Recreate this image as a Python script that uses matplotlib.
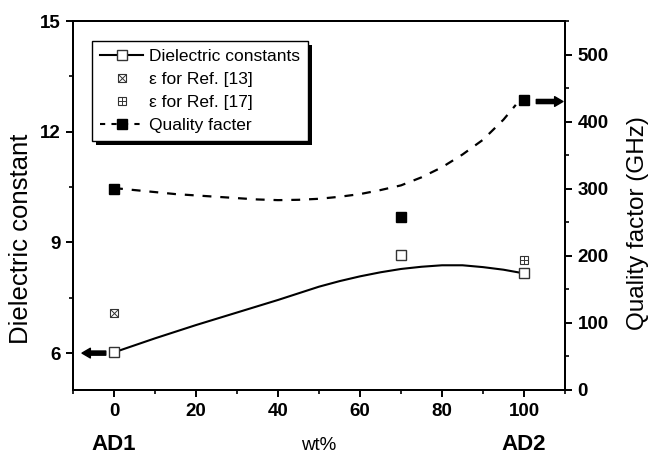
import matplotlib
matplotlib.use("Agg")
import matplotlib.pyplot as plt
import matplotlib.transforms as mtrans
from matplotlib.ticker import MultipleLocator
from matplotlib.legend_handler import HandlerTuple
from matplotlib.lines import Line2D
from matplotlib.patches import Rectangle

plt.rcParams['font.family'] = ['Liberation Sans', 'DejaVu Sans']

# ---- data ----
wt = [0, 70, 100]
eps = [6.02, 8.67, 8.16]
ref13_x = [0]
ref13_eps = [7.09]
ref17_x = [100]
ref17_eps = [8.51]
qf = [300, 258, 432]

eps_fit_x = [0, 5, 10, 15, 20, 25, 30, 35, 40, 45, 50, 55, 60, 65, 70, 75, 80, 85, 90, 95, 100]
eps_fit_y = [6.02, 6.21, 6.40, 6.58, 6.76, 6.93, 7.10, 7.27, 7.44, 7.62, 7.80, 7.95,
             8.08, 8.19, 8.28, 8.34, 8.38, 8.38, 8.33, 8.26, 8.16]

qf_fit_x = [0, 5, 10, 15, 20, 25, 30, 35, 40, 45, 50, 55, 60, 65, 70, 75, 80, 85, 90, 95, 98]
qf_fit_y = [301, 298, 295, 292, 290, 288, 286, 284, 283, 283.5, 285, 288, 292, 298, 305,
            317, 332, 351, 373, 403, 425]

x_ticks = [0, 20, 40, 60, 80, 100]
left_ticks = [6, 9, 12, 15]
right_ticks = [0, 100, 200, 300, 400, 500]

# ---- figure ----
fig = plt.figure(figsize=(6.6, 4.54), dpi=100)
W, H = 660, 454
L, R, T, B = 73, 565, 21, 390
ax = fig.add_axes([L / W, 1 - B / H, (R - L) / W, (B - T) / H])
ax2 = ax.twinx()

ax.set_xlim(-10, 110)
ax.set_ylim(5, 15)
ax2.set_ylim(0, 550)

ms = 6.5
# dielectric
ax.plot(eps_fit_x, eps_fit_y, color='black', lw=1.5, zorder=2)
ax.plot(wt, eps, ls='none', marker='s', ms=ms, mfc='white', mec='#333333', mew=1.0, zorder=3)
r13a, = ax.plot(ref13_x, ref13_eps, ls='none', marker='s', ms=6, mfc='white', mec='#333333', mew=0.8, zorder=3)
r13b, = ax.plot(ref13_x, ref13_eps, ls='none', marker='x', ms=5.5, mec='#333333', mew=0.7, zorder=3)
r17a, = ax.plot(ref17_x, ref17_eps, ls='none', marker='s', ms=6, mfc='white', mec='#333333', mew=0.8, zorder=3)
r17b, = ax.plot(ref17_x, ref17_eps, ls='none', marker='+', ms=6, mec='#333333', mew=0.7, zorder=3)

# quality factor
ax2.plot(qf_fit_x, qf_fit_y, color='black', lw=1.6, ls=(0, (4, 4)), zorder=2)
ax2.plot(wt, qf, ls='none', marker='s', ms=ms, mfc='black', mec='black', zorder=3)

# arrows
astyle = 'simple,head_width=0.7,head_length=0.6,tail_width=0.3'
ax.annotate('', xy=(-7.8, 6.0), xytext=(-2.0, 6.0),
            arrowprops=dict(arrowstyle=astyle, fc='black', ec='black',
                            shrinkA=0, shrinkB=0, mutation_scale=10))
ax2.annotate('', xy=(109.5, 430), xytext=(103, 430),
             arrowprops=dict(arrowstyle=astyle, fc='black', ec='black',
                             shrinkA=0, shrinkB=0, mutation_scale=10),
             annotation_clip=False)

# spines / ticks
for a in (ax, ax2):
    for s in a.spines.values():
        s.set_linewidth(1.4)
ax.set_xticks(x_ticks)
ax.xaxis.set_minor_locator(MultipleLocator(10))
ax.set_yticks(left_ticks)
ax.yaxis.set_minor_locator(MultipleLocator(1.5))
ax2.set_yticks(right_ticks)
ax2.yaxis.set_minor_locator(MultipleLocator(50))
ax.tick_params(axis='both', which='major', direction='out', length=5, width=1.4,
               labelsize=13.5, pad=4)
ax.tick_params(axis='both', which='minor', direction='out', length=3, width=1.2)
ax.tick_params(top=False, right=False, which='both')
ax2.tick_params(axis='y', which='major', direction='out', length=5, width=1.4, labelsize=13.5, pad=4)
ax2.tick_params(axis='y', which='minor', direction='out', length=3, width=1.2)
for lab in ax.get_xticklabels() + ax.get_yticklabels() + ax2.get_yticklabels():
    lab.set_fontweight('bold')

# labels
fig.text(21 / W, 1 - 239 / H, 'Dielectric constant', rotation=90, fontsize=18.5,
         ha='center', va='center')
fig.text(638 / W, 1 - 223 / H, 'Quality factor (GHz)', rotation=90, fontsize=17.5,
         ha='center', va='center')
tr = mtrans.blended_transform_factory(ax.transData, fig.transFigure)
ax.text(50, 1 - 445 / H, 'wt%', transform=tr, fontsize=13.5, ha='center', va='center')
ax.text(0, 1 - 445 / H, 'AD1', transform=tr, fontsize=16, fontweight='bold', ha='center', va='center')
ax.text(100, 1 - 445 / H, 'AD2', transform=tr, fontsize=16, fontweight='bold', ha='center', va='center')

# legend
h_eps = Line2D([], [], color='black', lw=1.5, marker='s', ms=ms, mfc='white', mec='#333333')
h_q = Line2D([], [], color='black', lw=1.5, ls=(0, (2.5, 3)), marker='s', ms=ms, mfc='black', mec='black')
leg = ax2.legend([h_eps, (r13a, r13b), (r17a, r17b), h_q],
                 ['Dielectric constants', '\u03b5 for Ref. [13]', '\u03b5 for Ref. [17]', 'Quality facter'],
                 handler_map={tuple: HandlerTuple(ndivide=1)},
                 loc='upper left', bbox_to_anchor=((92 - L) / (R - L), (B - 41) / (B - T)),
                 borderaxespad=0, fontsize=12.5, handlelength=2.5, handletextpad=0.35,
                 labelspacing=0.45, borderpad=0.45, numpoints=1, fancybox=False,
                 frameon=True, edgecolor='black', framealpha=1)
leg.get_frame().set_linewidth(1.0)
leg.set_zorder(10)
fig.canvas.draw()
bb = leg.get_window_extent()
shadow = Rectangle((bb.x0 + 4, bb.y0 - 4), bb.width, bb.height, transform=None,
                   facecolor='black', edgecolor='none', zorder=9.5, clip_on=False)
ax2.add_artist(shadow)

fig.savefig('out.png', dpi=100)
